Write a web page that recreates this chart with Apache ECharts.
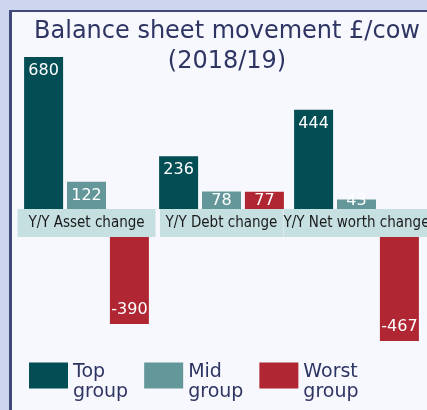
<!DOCTYPE html>
<html>
<head>
<meta charset="utf-8">
<script src="https://cdn.jsdelivr.net/npm/echarts@6/dist/echarts.min.js"></script>
<style>
  html, body { margin: 0; padding: 0; }
  body { width: 427px; height: 410px; background: #cdd6ee; position: relative; overflow: hidden; }
  #panel {
    position: absolute; left: 9px; top: 10px; right: 0; bottom: 0;
    background: #f7f8fd;
    border-left: 3px solid #3f4a7b;
    border-top: 2px solid #3f4a7b;
  }
  #chart { position: absolute; left: 0; top: 0; width: 427px; height: 410px; }
</style>
</head>
<body>
<div id="panel"></div>
<div id="chart"></div>
<script>
// categories and values (£/cow)
const categories = ["Y/Y Asset change", "Y/Y Debt change", "Y/Y Net worth change"];
const groupNames = ["Top group", "Mid group", "Worst group"];
const topGroup = [680, 236, 444];
const midGroup = [122, 78, 43];
const worstGroup = [-390, 77, -467];
const colors = ["#034e55", "#64979a", "#b02632"];

const allValues = [topGroup, midGroup, worstGroup];
const font = "'DejaVu Sans', sans-serif";

const myChart = echarts.init(document.getElementById("chart"));

// positive part goes in the upper grid, negative part in the lower one
const series = [];
allValues.forEach((vals, i) => {
  series.push({
    name: groupNames[i],
    type: "bar",
    xAxisIndex: 0,
    yAxisIndex: 0,
    barWidth: 39,
    barGap: "10%",
    itemStyle: { color: colors[i] },
    label: {
      show: true,
      position: "insideTop",
      distance: 6,
      color: "#fff",
      fontSize: 16,
      fontFamily: font,
    },
    labelLayout: (params) => {
      const r = params.rect;
      const bottom = r.y + r.height;
      if (params.labelRect.y + params.labelRect.height > bottom) {
        return { x: r.x + r.width / 2, y: bottom, align: "center", verticalAlign: "bottom" };
      }
    },
    data: vals.map((v) => (v >= 0 ? v : null)),
  });
  series.push({
    name: groupNames[i],
    type: "bar",
    xAxisIndex: 1,
    yAxisIndex: 1,
    barWidth: 39,
    barGap: "10%",
    itemStyle: { color: colors[i] },
    label: {
      show: true,
      position: "insideBottom",
      distance: 6,
      color: "#fff",
      fontSize: 16,
      fontFamily: font,
    },
    data: vals.map((v) => (v < 0 ? v : null)),
  });
});

const boxStyle = (w) => ({
  width: w,
  height: 28,
  lineHeight: 28,
  align: "center",
  backgroundColor: "#c6dfe1",
  color: "#1a1a1a",
  fontSize: 15,
  fontFamily: "'Liberation Sans Narrow', 'DejaVu Sans Condensed', sans-serif",
});

const option = {
  animation: false,
  title: {
    text: "Balance sheet movement £/cow\n(2018/19)",
    left: 222,
    textAlign: "center",
    top: 12,
    textStyle: {
      fontFamily: font,
      fontWeight: "normal",
      fontSize: 24,
      lineHeight: 30,
      color: "#2e3563",
    },
  },
  legend: {
    data: groupNames,
    left: 24,
    top: 350,
    itemWidth: 39,
    itemHeight: 26,
    itemGap: 16,
    icon: "rect",
    // a small empty first line pushes the text a bit below the swatch centre
    formatter: (name) => "{s| }\n{t|" + name.replace(" ", "}\n{t|") + "}",
    textStyle: {
      rich: {
        s: { fontSize: 1, lineHeight: 14 },
        t: { fontFamily: font, fontSize: 19, lineHeight: 20, color: "#2e3563" },
      },
    },
  },
  grid: [
    { left: 19, right: 3, top: 57, height: 152, outerBoundsMode: "none" },
    { left: 19, right: 3, top: 237, height: 107, outerBoundsMode: "none" },
  ],
  xAxis: [
    {
      type: "category",
      gridIndex: 0,
      data: categories,
      axisLine: { show: false },
      axisTick: { show: false },
      axisLabel: {
        interval: 0,
        margin: 0,
        hideOverlap: false,
        formatter: (v, i) => "{c" + i + "|" + v + "}",
        rich: { c0: boxStyle(138), c1: boxStyle(123), c2: boxStyle(146) },
      },
    },
    {
      type: "category",
      gridIndex: 1,
      data: categories,
      axisLine: { show: false },
      axisTick: { show: false },
      axisLabel: { show: false },
    },
  ],
  yAxis: [
    { type: "value", gridIndex: 0, min: 0, max: 680, show: false },
    { type: "value", gridIndex: 1, min: -480, max: 0, show: false },
  ],
  series: series,
};

myChart.setOption(option);
window.addEventListener("resize", myChart.resize);
</script>
</body>
</html>
